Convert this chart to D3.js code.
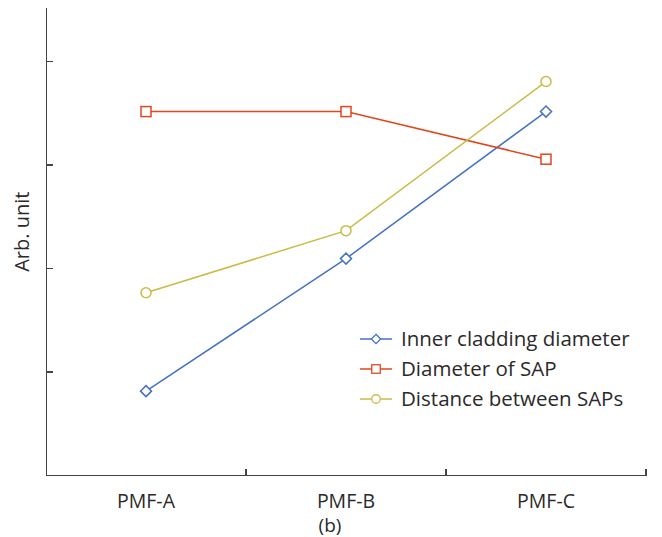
<!DOCTYPE html>
<html lang="en">
<head>
    <meta charset="UTF-8">
    <title>PMF comparison</title>
    <script src="https://d3js.org/d3.v7.min.js"></script>
    <style>
        body { margin: 0; background: #fff; }
        text { font-family: "Open Sans", "Noto Sans", sans-serif; fill: #2a2a2a; }
        .axis path, .axis line { stroke: #444; stroke-width: 1.5; shape-rendering: crispEdges; }
    </style>
</head>
<body>
    <svg width="662" height="537"></svg>

    <script>
        // Categories and series values (arbitrary units)
        const categories = ["PMF-A", "PMF-B", "PMF-C"];
        const innerCladding = [0.81, 2.09, 3.51];
        const diameterSAP = [3.51, 3.51, 3.05];
        const distanceSAPs = [1.76, 2.36, 3.80];
        const yTicks = [1, 2, 3, 4];

        const series = [
            { name: "Inner cladding diameter", values: innerCladding, color: "#4472c4", marker: "diamond" },
            { name: "Diameter of SAP", values: diameterSAP, color: "#e0471c", marker: "square" },
            { name: "Distance between SAPs", values: distanceSAPs, color: "#c9bb45", marker: "circle" }
        ];

        const margin = { top: 7, right: 16, bottom: 62, left: 46 },
              width = 662 - margin.left - margin.right,
              height = 537 - margin.top - margin.bottom;

        const svg = d3.select("svg")
                    .append("g")
                      .attr("transform", `translate(${margin.left},${margin.top})`);

        const x = d3.scaleBand()
                    .domain(categories)
                    .range([0, width])
                    .padding(0);

        const y = d3.scaleLinear()
                    .domain([0, 4.52])
                    .range([height, 0]);

        const cx = c => x(c) + x.bandwidth() / 2;

        // y axis: ticks pointing inward, no labels
        svg.append("g")
           .attr("class", "axis")
           .call(d3.axisRight(y).tickValues(yTicks).tickSize(7).tickSizeOuter(0).tickFormat(""));

        // x axis: category labels
        const xAxis = svg.append("g")
           .attr("class", "axis")
           .attr("transform", `translate(0,${height})`)
           .call(d3.axisBottom(x).tickSize(0).tickSizeOuter(0));
        xAxis.selectAll(".tick text")
           .attr("y", 26)
           .attr("dy", "0.36em")
           .style("font-size", "19.5px");

        // band boundary ticks pointing up
        xAxis.selectAll(".bound")
           .data(categories)
           .enter().append("line")
           .attr("class", "bound")
           .attr("x1", d => x(d) + x.bandwidth())
           .attr("x2", d => x(d) + x.bandwidth())
           .attr("y1", 0)
           .attr("y2", -6);

        const line = d3.line()
                       .x((d, i) => cx(categories[i]))
                       .y(d => y(d));

        function drawMarker(g, type, color) {
            if (type === "diamond") {
                g.append("path").attr("d", "M0,-5.5L5.5,0L0,5.5L-5.5,0Z");
            } else if (type === "square") {
                g.append("rect").attr("x", -5).attr("y", -5).attr("width", 10).attr("height", 10);
            } else {
                g.append("circle").attr("r", 5);
            }
            g.selectAll("*")
             .attr("fill", "#fff")
             .attr("stroke", color)
             .attr("stroke-width", 1.5);
        }

        series.forEach(s => {
            svg.append("path")
               .datum(s.values)
               .attr("fill", "none")
               .attr("stroke", s.color)
               .attr("stroke-width", 1.5)
               .attr("d", line);

            s.values.forEach((v, i) => {
                const g = svg.append("g")
                             .attr("transform", `translate(${cx(categories[i])},${y(v)})`);
                drawMarker(g, s.marker, s.color);
            });
        });

        // Legend
        const legend = svg.append("g")
                          .attr("transform", `translate(${360 - margin.left},${339 - margin.top})`);
        series.forEach((s, i) => {
            const row = legend.append("g").attr("transform", `translate(0,${i * 30})`);
            row.append("line")
               .attr("x1", 0).attr("x2", 32)
               .attr("stroke", s.color)
               .attr("stroke-width", 1.5);
            const m = row.append("g");
            drawMarker(m, s.marker, s.color);
            m.attr("transform", "translate(16,0) scale(0.85)");
            row.append("text")
               .attr("x", 41)
               .attr("dy", "0.36em")
               .style("font-size", "20.5px")
               .text(s.name);
        });

        // Y axis label
        svg.append("text")
           .attr("transform", `translate(${22 - margin.left},${y(2.35)}) rotate(-90)`)
           .attr("dy", "0.36em")
           .style("text-anchor", "middle")
           .style("font-size", "20px")
           .text("Arb. unit");

        // Caption
        svg.append("text")
           .attr("x", cx("PMF-B") - 16)
           .attr("y", 525 - margin.top)
           .attr("dy", "0.36em")
           .style("text-anchor", "middle")
           .style("font-size", "19px")
           .text("(b)");
    </script>
</body>
</html>
